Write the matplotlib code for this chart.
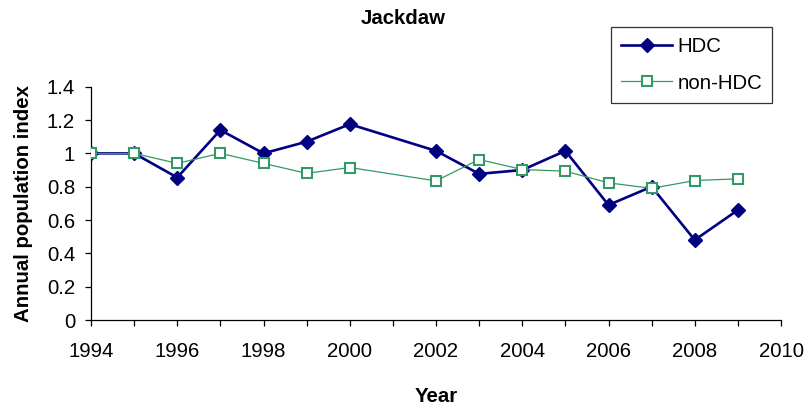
import matplotlib.pyplot as plt
from matplotlib.ticker import MultipleLocator, FuncFormatter

plt.rcParams['font.family'] = ['Liberation Sans', 'DejaVu Sans']

# survey years (no survey in 2001)
years = [1994, 1995, 1996, 1997, 1998, 1999, 2000,
         2002, 2003, 2004, 2005, 2006, 2007, 2008, 2009]
hdc = [1.0, 1.0, 0.855, 1.14, 1.0, 1.07, 1.175,
       1.015, 0.877, 0.90, 1.015, 0.69, 0.80, 0.48, 0.66]
non_hdc = [1.0, 1.0, 0.94, 1.0, 0.94, 0.88, 0.915,
           0.835, 0.963, 0.903, 0.893, 0.823, 0.79, 0.837, 0.847]

fs = 14.7

fig = plt.figure(figsize=(8.11, 4.05), dpi=100)
ax = fig.add_axes([91 / 811, 85 / 405, 690 / 811, 233.3 / 405])

ax.plot(years, hdc, color='#000080', lw=1.9, marker='D', ms=7.5,
        mfc='#000080', mec='#000080', label='HDC', zorder=3)
ax.plot(years, non_hdc, color='#339966', lw=0.9, marker='s', ms=6.5,
        mfc='white', mec='#339966', mew=1.5, label='non-HDC', zorder=4)

ax.set_xlim(1994, 2010)
ax.set_ylim(0, 1.4)
ax.xaxis.set_major_locator(MultipleLocator(2))
ax.xaxis.set_minor_locator(MultipleLocator(1))
ax.yaxis.set_major_locator(MultipleLocator(0.2))
ax.yaxis.set_major_formatter(FuncFormatter(lambda v, p: '%g' % round(v, 1)))

for s in ['top', 'right']:
    ax.spines[s].set_visible(False)
for s in ['left', 'bottom']:
    ax.spines[s].set_linewidth(0.9)
    ax.spines[s].set_color('black')

ax.tick_params(axis='both', which='both', direction='out', length=4.5,
               width=0.9, labelsize=fs, pad=7)
ax.tick_params(axis='x', which='both', pad=11)

ax.set_xlabel('Year', fontsize=fs, fontweight='bold', labelpad=19)
ax.set_ylabel('Annual population index', fontsize=fs, fontweight='bold',
              labelpad=10)
fig.text(403 / 811, 1 - 18 / 405, 'Jackdaw', fontsize=fs, fontweight='bold',
         ha='center', va='center')

leg = fig.legend(loc='upper left', bbox_to_anchor=(611 / 811, 1 - 27 / 405),
                 fontsize=fs, frameon=True, fancybox=False, borderaxespad=0,
                 handlelength=2.5, handletextpad=0.25, borderpad=0.5,
                 labelspacing=0.85)
leg.get_frame().set_edgecolor('black')
leg.get_frame().set_linewidth(0.9)

fig.savefig('out.png', dpi=100)
